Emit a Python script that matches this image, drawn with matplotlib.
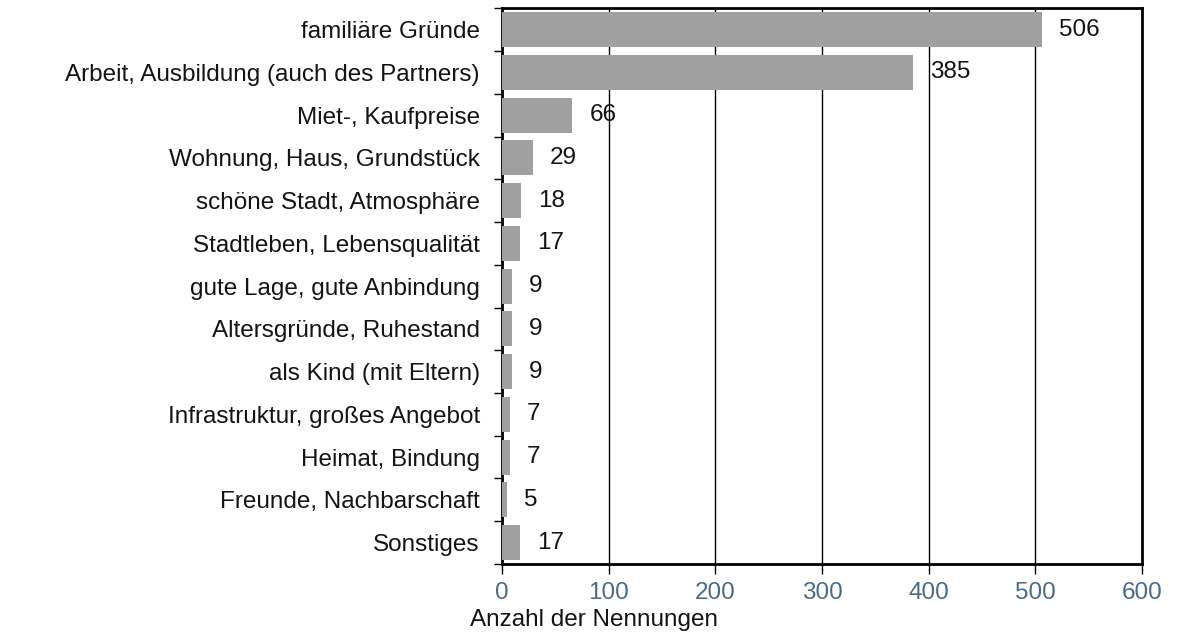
import numpy as np
import matplotlib
matplotlib.use('Agg')
import matplotlib.pyplot as plt

plt.rcParams['font.family'] = ['Liberation Sans', 'DejaVu Sans']

categories = ['familiäre Gründe', 'Arbeit, Ausbildung (auch des Partners)',
              'Miet-, Kaufpreise', 'Wohnung, Haus, Grundstück',
              'schöne Stadt, Atmosphäre', 'Stadtleben, Lebensqualität',
              'gute Lage, gute Anbindung', 'Altersgründe, Ruhestand',
              'als Kind (mit Eltern)', 'Infrastruktur, großes Angebot',
              'Heimat, Bindung', 'Freunde, Nachbarschaft', 'Sonstiges']
values = [506, 385, 66, 29, 18, 17, 9, 9, 9, 7, 7, 5, 17]
xticks = [0, 100, 200, 300, 400, 500, 600]

fs = 17.5
fig = plt.figure(figsize=(11.87, 6.38), dpi=100)
ax = fig.add_axes([0.423, 0.116, 0.539, 0.871])

y = np.arange(len(categories))
ax.barh(y, values, height=0.82, color='#a0a0a0', zorder=3)
for yi, v in zip(y, values):
    ax.text(v + 16, yi, str(v), va='center', ha='left', fontsize=fs, color='#141414', zorder=4)

ax.set_ylim(len(categories) - 0.5, -0.5)
ax.set_xlim(0, 600)
ax.set_xticks(xticks)
ax.set_xticklabels([str(t) for t in xticks], color='#4a6b85', fontsize=fs)
ax.set_yticks(y)
ax.set_yticklabels(categories, fontsize=fs, color='#141414')
ax.set_yticks(np.arange(len(categories) + 1) - 0.5, minor=True)
ax.tick_params(axis='y', which='major', length=0, pad=16)
ax.tick_params(axis='y', which='minor', length=6, width=1, direction='out')
ax.tick_params(axis='x', length=7, width=1, direction='out', pad=6)
ax.grid(axis='x', color='black', linewidth=1, zorder=0)
for s in ax.spines.values():
    s.set_linewidth(2)

fig.text(0.5, 0.028, 'Anzahl der Nennungen', ha='center', va='center', fontsize=fs, color='#141414')

fig.savefig('out.png', dpi=100)
